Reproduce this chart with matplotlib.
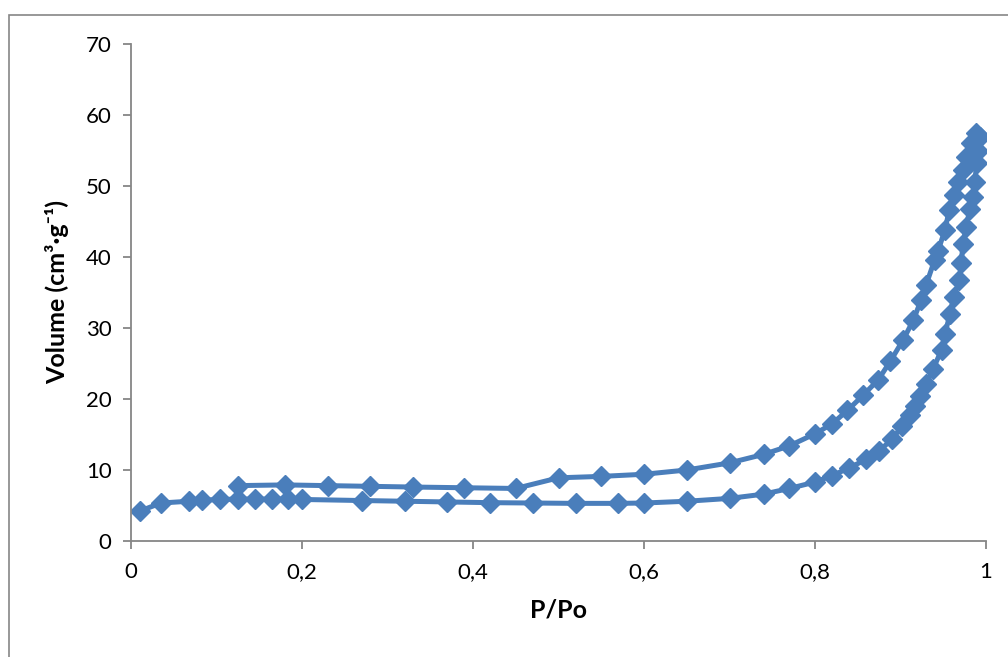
import matplotlib
matplotlib.use("Agg")
import matplotlib.pyplot as plt
from matplotlib.patches import Rectangle
from matplotlib.ticker import FuncFormatter

plt.rcParams['font.family'] = ['Lato', 'DejaVu Sans']

# adsorption branch (lower curve), relative pressure vs volume
ads_p = [0.01, 0.035, 0.068, 0.083, 0.104, 0.125, 0.145, 0.165, 0.184, 0.2,
         0.27, 0.32, 0.37, 0.42, 0.47, 0.52, 0.57, 0.60, 0.65, 0.70,
         0.74, 0.77, 0.80, 0.82, 0.84, 0.86, 0.875, 0.89, 0.902, 0.911,
         0.917, 0.923, 0.930, 0.938, 0.948, 0.952, 0.958, 0.962, 0.969, 0.971,
         0.973, 0.977, 0.981, 0.985, 0.987, 0.989, 0.991, 0.993]
ads_v = [4.2, 5.35, 5.6, 5.75, 5.85, 5.9, 5.9, 5.9, 5.9, 5.85,
         5.7, 5.6, 5.5, 5.4, 5.35, 5.3, 5.3, 5.35, 5.6, 6.0,
         6.6, 7.4, 8.3, 9.2, 10.3, 11.5, 12.7, 14.3, 16.2, 17.8,
         19.0, 20.4, 22.1, 24.2, 26.9, 29.2, 32.0, 34.3, 36.8, 39.1,
         41.9, 44.2, 46.8, 48.5, 50.6, 53.2, 55.0, 56.9]

# desorption branch (upper curve)
des_p = [0.988, 0.983, 0.977, 0.973, 0.967, 0.963, 0.957, 0.952, 0.944, 0.940,
         0.930, 0.924, 0.915, 0.903, 0.888, 0.874, 0.856, 0.838, 0.82, 0.80,
         0.77, 0.74, 0.70, 0.65, 0.60, 0.55, 0.50, 0.45, 0.39, 0.33,
         0.28, 0.23, 0.18, 0.125]
des_v = [57.4, 56.0, 54.1, 52.2, 50.6, 48.7, 46.6, 43.8, 40.9, 39.6,
         36.1, 33.9, 31.1, 28.3, 25.3, 22.7, 20.5, 18.4, 16.5, 15.1,
         13.4, 12.2, 11.0, 10.0, 9.4, 9.1, 8.9, 7.4, 7.5, 7.6,
         7.7, 7.8, 7.9, 7.8]

blue = '#4a7ebb'
grey = '#868686'

fig = plt.figure(figsize=(10.08, 6.57), dpi=100)
fig.patches.append(Rectangle((9 / 1008, -0.1), 1.2, 1 - 15 / 657 + 0.1,
                             transform=fig.transFigure, fill=False,
                             edgecolor=grey, linewidth=1.2))
ax = fig.add_axes([131 / 1008, 1 - 541 / 657, 855 / 1008, 497 / 657])

ax.plot(ads_p + des_p, ads_v + des_v, color=blue, linewidth=3.6,
        marker='D', markersize=10, markerfacecolor=blue,
        markeredgecolor=blue, solid_joinstyle='round')

ax.set_xlim(0, 1)
ax.set_ylim(0, 70)
ax.set_xticks([0, 0.2, 0.4, 0.6, 0.8, 1])
ax.set_yticks(range(0, 71, 10))
ax.xaxis.set_major_formatter(FuncFormatter(lambda v, _: ('%g' % v).replace('.', ',')))

for side in ('top', 'right'):
    ax.spines[side].set_visible(False)
for side in ('left', 'bottom'):
    ax.spines[side].set_color(grey)
    ax.spines[side].set_linewidth(1.3)
ax.tick_params(direction='out', length=6, width=1.3, color=grey,
               labelsize=16, pad=9)
ax.tick_params(axis='y', pad=8)

ax.set_xlabel('P/Po', fontsize=18, fontweight='bold', labelpad=12)
ax.set_ylabel('Volume (cm³·g⁻¹)', fontsize=18, fontweight='bold', labelpad=12)

fig.savefig('out.png', dpi=100)
